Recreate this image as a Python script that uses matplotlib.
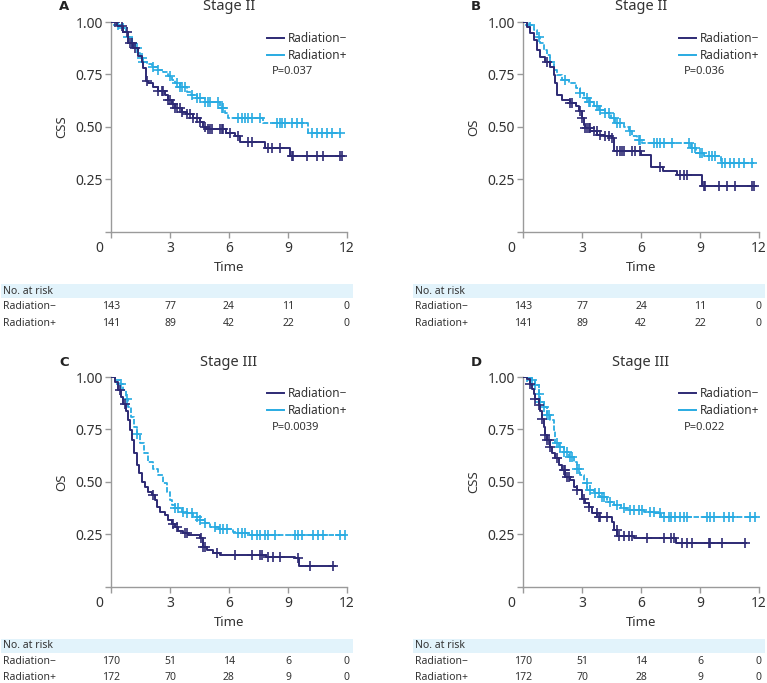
import numpy as np
import matplotlib
matplotlib.use("Agg")
import matplotlib.pyplot as plt
from matplotlib.lines import Line2D
from matplotlib.transforms import ScaledTranslation, blended_transform_factory

plt.rcParams['font.family'] = ['Noto Sans', 'DejaVu Sans']

# ---------------- data ----------------
time_ticks = [0, 3, 6, 9, 12]
surv_ticks = [0, 0.25, 0.50, 0.75, 1.00]
surv_tick_labels = ['', '0.25', '0.50', '0.75', '1.00']
group_labels = ['Radiation\u2212', 'Radiation+']

# Panel A: Stage II, CSS
a_neg_t = [0, 0.29, 0.63, 0.88, 1.13, 1.39, 1.56, 1.64, 1.76, 1.90, 2.15, 2.40, 2.74, 2.91, 3.08, 3.25,
           3.59, 3.84, 4.18, 4.52, 4.69, 4.85, 5.87, 6.3, 6.55, 7.82, 9.12, 11.8]
a_neg_s = [1.0, 0.98, 0.954, 0.90, 0.875, 0.84, 0.81, 0.78, 0.72, 0.71, 0.69, 0.67, 0.65, 0.63, 0.61, 0.59,
           0.57, 0.56, 0.54, 0.525, 0.50, 0.487, 0.47, 0.455, 0.425, 0.40, 0.36, 0.36]
a_pos_t = [0, 0.37, 0.63, 0.76, 0.88, 1.05, 1.22, 1.39, 1.47, 1.61, 1.81, 2.06, 2.32, 2.66, 2.91, 3.08,
           3.25, 3.5, 3.84, 4.09, 4.35, 4.77, 5.53, 5.79, 5.96, 7.73, 10.02, 11.7]
a_pos_s = [1.0, 0.985, 0.97, 0.954, 0.93, 0.90, 0.875, 0.85, 0.827, 0.81, 0.80, 0.787, 0.77, 0.763, 0.743, 0.724,
           0.708, 0.69, 0.667, 0.65, 0.637, 0.62, 0.59, 0.565, 0.54, 0.517, 0.47, 0.47]
a_neg_cens = [0.2, 0.54, 0.8, 0.97, 1.05, 1.22, 1.81, 2.41, 2.58, 2.66, 2.92, 3.0, 3.17, 3.25, 3.34, 3.51,
              3.6, 3.85, 4.02, 4.19, 4.36, 4.53, 4.78, 4.95, 5.03, 5.12, 5.54, 5.63, 5.71, 6.05, 6.47,
              6.98, 7.15, 8.0, 8.17, 8.6, 9.19, 9.27, 9.95, 10.46, 10.8, 11.64, 11.73]
a_pos_cens = [0.37, 0.63, 0.88, 1.05, 1.3, 1.56, 1.64, 2.15, 2.41, 3.0, 3.34, 3.51, 3.6, 3.76, 4.1, 4.36,
              4.53, 4.78, 4.95, 5.03, 5.46, 5.63, 5.71, 6.47, 6.64, 6.81, 6.98, 7.15, 7.58, 8.42, 8.6,
              8.68, 8.85, 9.19, 9.44, 9.7, 10.2, 10.46, 10.71, 10.97, 11.22, 11.64]
a_risk_neg = [143, 77, 24, 11, 0]
a_risk_pos = [141, 89, 42, 22, 0]

# Panel B: Stage II, OS
b_neg_t = [0, 0.2, 0.37, 0.54, 0.71, 0.88, 1.14, 1.39, 1.56, 1.65, 1.73, 1.99, 2.41, 2.67, 2.84, 3.0,
           3.09, 3.17, 3.43, 3.77, 4.11, 4.53, 4.62, 5.98, 6.5, 7.1, 7.85, 9.12, 11.8]
b_neg_s = [1.0, 0.978, 0.946, 0.914, 0.867, 0.835, 0.81, 0.787, 0.748, 0.708, 0.652, 0.629, 0.613, 0.597,
           0.573, 0.54, 0.51, 0.494, 0.478, 0.462, 0.454, 0.446, 0.385, 0.366, 0.31, 0.29, 0.27, 0.216, 0.216]
b_pos_t = [0, 0.29, 0.54, 0.71, 0.88, 1.05, 1.22, 1.39, 1.56, 1.73, 1.99, 2.33, 2.67, 2.92, 3.09, 3.34,
           3.6, 3.85, 4.19, 4.45, 4.7, 5.13, 5.38, 5.55, 5.81, 6.06, 8.52, 8.78, 9.2, 10.08, 11.75]
b_pos_s = [1.0, 0.985, 0.962, 0.93, 0.90, 0.867, 0.843, 0.81, 0.77, 0.748, 0.724, 0.708, 0.684, 0.66,
           0.637, 0.62, 0.597, 0.58, 0.565, 0.54, 0.517, 0.50, 0.478, 0.454, 0.438, 0.422, 0.40, 0.375,
           0.36, 0.327, 0.327]
b_neg_cens = [1.22, 2.41, 2.49, 2.92, 3.0, 3.17, 3.25, 3.34, 3.42, 3.6, 3.76, 3.93, 4.19, 4.36, 4.53,
              4.78, 4.95, 5.03, 5.12, 5.54, 5.71, 5.97, 6.98, 8.0, 8.17, 8.34, 9.19, 9.27, 9.95, 10.37,
              10.8, 11.64, 11.73]
b_pos_cens = [0.37, 0.8, 1.39, 2.15, 2.92, 3.25, 3.34, 3.42, 3.76, 3.93, 4.19, 4.36, 4.61, 4.78, 4.95,
              5.46, 5.88, 5.97, 6.64, 6.81, 6.98, 7.15, 7.58, 8.42, 8.6, 8.76, 9.02, 9.1, 9.44, 9.61,
              9.78, 10.12, 10.29, 10.54, 10.71, 10.97, 11.22, 11.64]
b_risk_neg = [143, 77, 24, 11, 0]
b_risk_pos = [141, 89, 42, 22, 0]

# Panel C: Stage III, OS
c_neg_t = [0, 0.2, 0.37, 0.49, 0.63, 0.76, 0.85, 0.96, 1.08, 1.18, 1.3, 1.44, 1.56, 1.73, 1.9, 2.06,
           2.23, 2.32, 2.49, 2.74, 2.91, 3.08, 3.25, 3.42, 3.67, 3.93, 4.52, 4.69, 4.86, 5.19, 5.53,
           7.9, 9.34, 9.54, 11.37]
c_neg_s = [1.0, 0.976, 0.937, 0.905, 0.873, 0.84, 0.794, 0.746, 0.698, 0.635, 0.58, 0.54, 0.50, 0.476,
           0.452, 0.437, 0.413, 0.38, 0.357, 0.34, 0.317, 0.30, 0.286, 0.267, 0.254, 0.246, 0.23, 0.19,
           0.175, 0.162, 0.15, 0.143, 0.135, 0.098, 0.098]
c_pos_t = [0, 0.2, 0.45, 0.6, 0.75, 0.85, 1.0, 1.15, 1.3, 1.5, 1.7, 1.9, 2.15, 2.4, 2.66, 2.83, 3.0,
           3.08, 3.25, 3.59, 3.84, 4.18, 4.52, 4.77, 5.03, 5.53, 6.21, 6.38, 7.06, 11.95]
c_pos_s = [1.0, 0.984, 0.968, 0.937, 0.897, 0.857, 0.81, 0.762, 0.73, 0.683, 0.635, 0.595, 0.563, 0.532,
           0.492, 0.452, 0.413, 0.389, 0.373, 0.357, 0.349, 0.333, 0.317, 0.302, 0.286, 0.275, 0.262,
           0.254, 0.246, 0.246]
c_neg_cens = [0.46, 0.71, 2.15, 3.17, 3.34, 3.76, 3.85, 4.6, 4.7, 4.78, 5.37, 6.3, 7.15, 7.58, 7.66,
              8.0, 8.25, 8.6, 9.53, 10.1, 11.3]
c_pos_cens = [0.51, 0.8, 1.3, 3.25, 3.42, 3.68, 3.85, 4.1, 4.35, 4.53, 4.78, 5.29, 5.54, 5.71, 5.88,
              6.47, 6.64, 6.81, 7.15, 7.4, 7.58, 7.83, 8.0, 8.34, 9.36, 9.53, 9.7, 10.29, 10.54, 10.8,
              11.64, 11.9]
c_risk_neg = [170, 51, 14, 6, 0]
c_risk_pos = [172, 70, 28, 9, 0]

# Panel D: Stage III, CSS
d_neg_t = [0, 0.2, 0.37, 0.46, 0.54, 0.63, 0.8, 0.88, 0.97, 1.05, 1.14, 1.22, 1.39, 1.48, 1.65, 1.82,
           1.99, 2.16, 2.41, 2.58, 2.75, 3.0, 3.17, 3.34, 3.51, 3.77, 4.53, 4.62, 4.79, 5.64, 7.76, 11.32]
d_neg_s = [1.0, 0.992, 0.968, 0.944, 0.92, 0.897, 0.865, 0.84, 0.80, 0.762, 0.722, 0.698, 0.667, 0.635,
           0.611, 0.579, 0.556, 0.524, 0.508, 0.476, 0.46, 0.42, 0.397, 0.38, 0.35, 0.333, 0.31, 0.27,
           0.243, 0.23, 0.206, 0.206]
d_pos_t = [0, 0.29, 0.46, 0.63, 0.8, 0.88, 1.05, 1.22, 1.39, 1.56, 1.65, 1.82, 2.07, 2.33, 2.58, 2.75,
           2.92, 3.09, 3.26, 3.6, 3.94, 4.28, 4.62, 4.96, 5.3, 6.15, 6.66, 7.0, 12.0]
d_pos_s = [1.0, 0.995, 0.984, 0.96, 0.92, 0.88, 0.857, 0.817, 0.794, 0.746, 0.683, 0.667, 0.643, 0.619,
           0.595, 0.563, 0.532, 0.492, 0.46, 0.444, 0.429, 0.405, 0.389, 0.373, 0.365, 0.357, 0.349,
           0.333, 0.333]
d_neg_cens = [0.37, 0.63, 0.8, 0.97, 1.14, 1.22, 1.3, 1.39, 1.73, 2.07, 2.15, 2.24, 2.32, 2.75, 3.08,
              3.34, 3.76, 3.85, 3.93, 4.27, 4.78, 4.86, 5.12, 5.37, 5.54, 6.3, 7.15, 7.5, 7.66, 8.08,
              8.34, 8.6, 9.44, 9.53, 10.12, 11.3]
d_pos_cens = [0.2, 0.46, 0.63, 0.8, 0.88, 1.05, 1.22, 1.3, 1.73, 1.9, 2.07, 2.24, 2.41, 2.49, 2.75,
              2.83, 3.25, 3.42, 3.68, 3.85, 4.02, 4.1, 4.44, 4.78, 5.12, 5.46, 5.63, 5.88, 6.05, 6.47,
              6.64, 6.98, 7.15, 7.4, 7.5, 7.75, 8.0, 8.17, 8.34, 9.36, 9.53, 9.7, 10.2, 10.46, 10.7,
              11.56, 11.81]
d_risk_neg = [170, 51, 14, 6, 0]
d_risk_pos = [172, 70, 28, 9, 0]

panel_letters = ['A', 'B', 'C', 'D']
panel_titles = ['Stage II', 'Stage II', 'Stage III', 'Stage III']
panel_ylabels = ['CSS', 'OS', 'OS', 'CSS']
panel_pvalues = ['P=0.037', 'P=0.036', 'P=0.0039', 'P=0.022']

# ---------------- style ----------------
DARK = '#2d2a74'
LIGHT = '#29abe2'
AXIS = '#9a9a9a'
TEXT = '#333333'
BAND = '#e2f3fb'

W, H = 767, 683
fig = plt.figure(figsize=(W / 100, H / 100), dpi=100)

# axes boxes in pixels (left, top of y=1, right, bottom y=0)
boxes = [(111, 22, 347, 231.5), (523, 22, 759, 231.5),
         (111, 377, 347, 586.5), (523, 377, 759, 586.5)]

panels = [
    (a_neg_t, a_neg_s, a_pos_t, a_pos_s, a_neg_cens, a_pos_cens, a_risk_neg, a_risk_pos),
    (b_neg_t, b_neg_s, b_pos_t, b_pos_s, b_neg_cens, b_pos_cens, b_risk_neg, b_risk_pos),
    (c_neg_t, c_neg_s, c_pos_t, c_pos_s, c_neg_cens, c_pos_cens, c_risk_neg, c_risk_pos),
    (d_neg_t, d_neg_s, d_pos_t, d_pos_s, d_neg_cens, d_pos_cens, d_risk_neg, d_risk_pos),
]


def step_value(t, s, x):
    idx = np.searchsorted(np.asarray(t), np.asarray(x), side='right') - 1
    return np.asarray(s)[idx]


for i, (box, pdata) in enumerate(zip(boxes, panels)):
    l, t, r, b = box
    ax = fig.add_axes([l / W, 1 - b / H, (r - l) / W, (b - t) / H])
    pw, ph = r - l, b - t
    nt, ns, pt, ps, nc, pc, rn, rp = pdata

    ax.step(pt, ps, where='post', color=LIGHT, lw=1.3, ls=(0, (3.0, 1.0)), zorder=3)
    ax.plot(pc, step_value(pt, ps, pc), ls='none', marker='+', ms=6.5, mew=1.2,
            color=LIGHT, zorder=3)
    ax.step(nt, ns, where='post', color=DARK, lw=1.4, zorder=4)
    ax.plot(nc, step_value(nt, ns, nc), ls='none', marker='+', ms=6.5, mew=1.2,
            color=DARK, zorder=4)

    ax.set_xlim(0, 12)
    ax.set_ylim(0, 1)
    for side in ['top', 'right']:
        ax.spines[side].set_visible(False)
    for side in ['left', 'bottom']:
        ax.spines[side].set_color(AXIS)
        ax.spines[side].set_linewidth(1.0)
    ax.set_xticks(time_ticks)
    ax.set_xticklabels([str(v) for v in time_ticks])
    ax.set_yticks(surv_ticks)
    ax.set_yticklabels(surv_tick_labels)
    ax.tick_params(axis='both', colors=AXIS, labelcolor=TEXT, labelsize=10, length=4, width=1)
    ax.tick_params(axis='y', pad=2)
    ax.tick_params(axis='x', pad=3)
    # shift the '0' time label to the left as in the reference
    lab0 = ax.get_xticklabels()[0]
    lab0.set_transform(lab0.get_transform() + ScaledTranslation(-12 / 100, 0, fig.dpi_scale_trans))

    ax.set_xlabel('Time', fontsize=9.5, color=TEXT)
    ax.xaxis.label.set_va('center')
    ax.xaxis.set_label_coords(0.5, -35.5 / ph)
    ax.set_ylabel(panel_ylabels[i], fontsize=9.5, color=TEXT)
    ax.yaxis.label.set_va('center')
    ax.yaxis.set_label_coords(-49 / pw, 0.5)

    ax.text(0.5, 1 + 15 / ph, panel_titles[i], transform=ax.transAxes, ha='center', va='center',
            fontsize=10.5, color=TEXT)
    ax.text(-47 / pw, 1 + 15 / ph, panel_letters[i], transform=ax.transAxes, ha='center', va='center',
            fontsize=9.5, fontweight='bold', color='#222222', family='DejaVu Sans')

    handles = [Line2D([], [], color=DARK, lw=1.4), Line2D([], [], color=LIGHT, lw=1.4)]
    ax.legend(handles, group_labels, loc='upper left', bbox_to_anchor=(156 / pw, 1 - 10 / ph),
              frameon=False, fontsize=8.5, handlelength=1.45, handletextpad=0.35, labelspacing=0.38,
              borderaxespad=0, borderpad=0, labelcolor=TEXT)
    ax.text(161 / pw, 1 - 50 / ph, panel_pvalues[i], transform=ax.transAxes, ha='left', va='center',
            fontsize=8, color=TEXT)

    # number at risk table
    ax.add_patch(plt.Rectangle((-110 / pw, -66.5 / ph), (116 + pw) / pw, 14 / ph,
                               transform=ax.transAxes, facecolor=BAND, edgecolor='none',
                               clip_on=False, zorder=0))
    ax.text(-108 / pw, -59.5 / ph, 'No. at risk', transform=ax.transAxes, ha='left', va='center',
            fontsize=7.5, color=TEXT)
    ax.text(-108 / pw, -74.5 / ph, group_labels[0], transform=ax.transAxes, ha='left', va='center',
            fontsize=7.5, color=TEXT)
    ax.text(-108 / pw, -91.5 / ph, group_labels[1], transform=ax.transAxes, ha='left', va='center',
            fontsize=7.5, color=TEXT)
    tr = blended_transform_factory(ax.transData, ax.transAxes)
    for x, v1, v2 in zip(time_ticks, rn, rp):
        ax.text(x, -74.5 / ph, str(v1), transform=tr, ha='center', va='center', fontsize=7.5,
                color=TEXT)
        ax.text(x, -91.5 / ph, str(v2), transform=tr, ha='center', va='center', fontsize=7.5,
                color=TEXT)

fig.savefig('out.png', dpi=100)
